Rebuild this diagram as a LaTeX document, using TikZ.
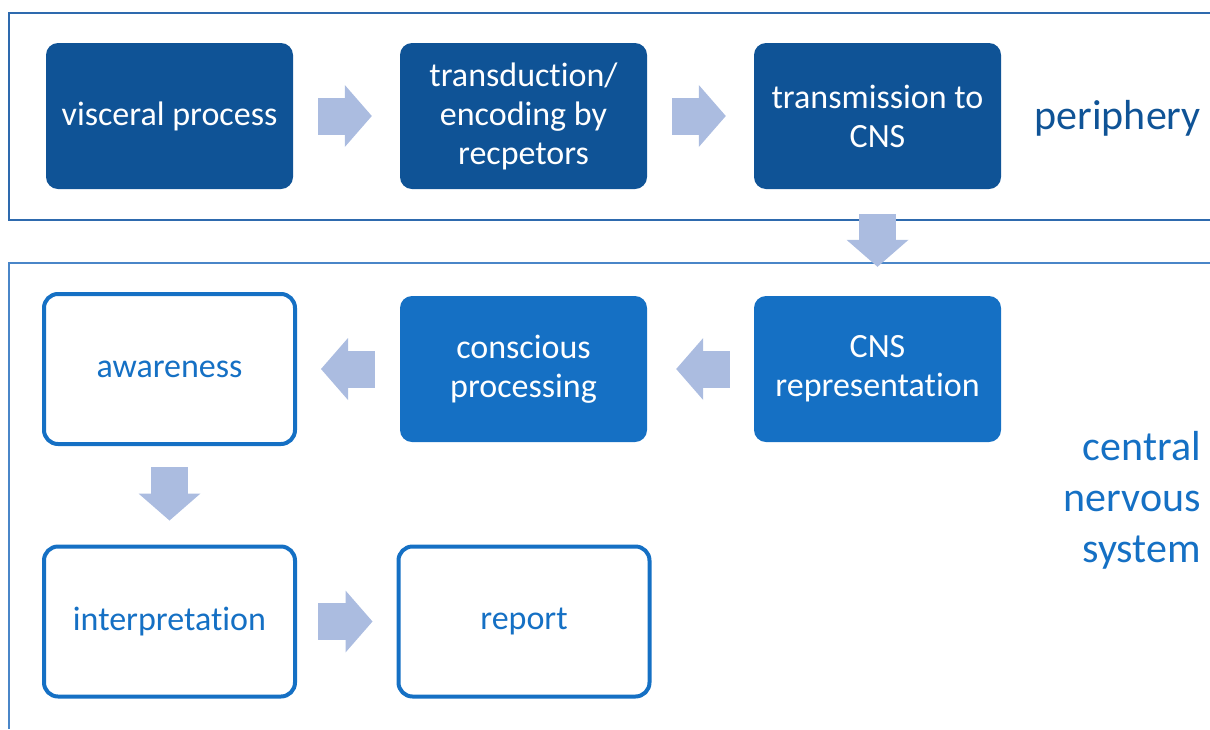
\documentclass[tikz,border=0pt]{standalone}
\usepackage{fontspec}
\setmainfont{Carlito}[Ligatures=NoCommon]
\usetikzlibrary{arrows.meta}
\definecolor{perblue}{HTML}{0F5396}
\definecolor{cnsblue}{HTML}{1570C4}
\definecolor{arrowblue}{HTML}{ABBCE0}
\definecolor{frametop}{HTML}{2E6AAE}
\definecolor{framelow}{HTML}{4A86C8}
\tikzset{
  boxtext/.style={align=center, inner sep=0pt, font=\fontsize{34}{39}\selectfont},
  perbox/.style={boxtext, fill=perblue, text=white, rounded corners=12pt,
    minimum width=247pt, minimum height=146pt},
  cnsbox/.style={boxtext, fill=cnsblue, text=white, rounded corners=12pt,
    minimum width=247pt, minimum height=146pt},
  openbox/.style={boxtext, draw=cnsblue, line width=4pt, text=cnsblue,
    rounded corners=14pt, minimum width=251pt, minimum height=150pt},
  blockarr/.style={draw=arrowblue, line width=37pt,
    -{Triangle[length=27pt,width=62pt,line width=0pt]},
    shorten <=25pt, shorten >=28pt},
  sidelabel/.style={anchor=east, align=right, inner sep=0pt,
    font=\fontsize{42}{51}\selectfont}
}
\begin{document}
\begin{tikzpicture}[x=1pt,y=-1pt]
  \useasboundingbox (0,0) rectangle (1210,729);
  % frames
  \draw[frametop, line width=1.5pt] (1210,13) -| (9,220) -- (1210,220);
  \draw[framelow, line width=1.5pt] (1210,263) -| (9,729);
  % periphery
  \node[perbox] (visc) at (169.5,116) {visceral process};
  \node[perbox] (transd) at (523.5,116) {transduction/\\encoding by\\recpetors};
  \node[perbox] (transm) at (877.5,116) {transmission to\\CNS};
  % central nervous system
  \node[cnsbox] (cnsrep) at (877.5,369) {CNS\\representation};
  \node[cnsbox] (consc) at (523.5,369) {conscious\\processing};
  \node[openbox] (aware) at (169.5,369) {awareness};
  \node[openbox] (interp) at (169.5,621.5) {interpretation};
  \node[openbox] (report) at (524,621.5) {report};
  % labels
  \node[sidelabel, text=perblue] (perlab) at (1201,118) {periphery};
  \node[sidelabel, text=cnsblue] (cnslab) at (1201,500) {central\\nervous\\system};
  % arrows
  \draw[blockarr] (visc) -- (transd);
  \draw[blockarr] (transd) -- (transm);
  \draw[blockarr, shorten >=29pt] (transm) -- (cnsrep);
  \draw[blockarr, shorten <=24pt, shorten >=29pt] (cnsrep) -- (consc);
  \draw[blockarr, shorten >=24pt] (consc) -- (aware);
  \draw[blockarr, shorten <=21pt, shorten >=24pt] (aware) -- (interp);
  \draw[blockarr, shorten <=21pt, shorten >=24pt] (interp) -- (report);
\end{tikzpicture}
\end{document}
